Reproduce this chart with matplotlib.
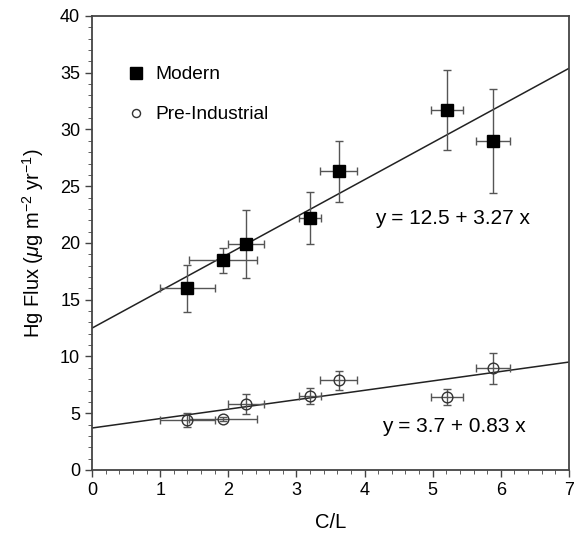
import numpy as np
import matplotlib.pyplot as plt
from matplotlib.lines import Line2D
from matplotlib.ticker import MultipleLocator

plt.rcParams['font.family'] = ['Liberation Sans', 'DejaVu Sans']
plt.rcParams['mathtext.fontset'] = 'custom'
plt.rcParams['mathtext.rm'] = 'Liberation Sans'
plt.rcParams['mathtext.it'] = 'Liberation Sans:italic'

# C/L values and their errors (shared by both series)
cl = [1.40, 1.92, 2.26, 3.20, 3.62, 5.21, 5.89]
cl_err = [0.40, 0.50, 0.26, 0.16, 0.27, 0.24, 0.25]

# Modern Hg flux
modern = [16.0, 18.5, 19.9, 22.2, 26.3, 31.7, 29.0]
modern_err = [2.1, 1.1, 3.0, 2.3, 2.7, 3.5, 4.6]

# Pre-industrial Hg flux
pre = [4.4, 4.5, 5.8, 6.55, 7.9, 6.4, 8.95]
pre_err = [0.6, 0.2, 0.9, 0.7, 0.85, 0.7, 1.4]

# fitted lines
fit_modern = (12.5, 3.27)
fit_pre = (3.7, 0.83)

fig = plt.figure(figsize=(5.79, 5.33), dpi=100)
ax = fig.add_axes([0.1589, 0.1182, 0.8238, 0.8518])

xs = np.array([0, 7])
ax.plot(xs, fit_modern[0] + fit_modern[1]*xs, color='#222222', lw=1.1, zorder=2)
ax.plot(xs, fit_pre[0] + fit_pre[1]*xs, color='#222222', lw=1.1, zorder=2)

ax.errorbar(cl, modern, xerr=cl_err, yerr=modern_err, fmt='none',
            ecolor='#555555', elinewidth=1, capsize=3.2, capthick=1, zorder=3)
ax.errorbar(cl, pre, xerr=cl_err, yerr=pre_err, fmt='none',
            ecolor='#555555', elinewidth=1, capsize=3.2, capthick=1, zorder=3)
ax.plot(cl, modern, 's', color='black', ms=8, ls='none', zorder=4)
ax.plot(cl, pre, 'o', mfc='none', mec='#333333', mew=1, ms=7.7, ls='none', zorder=4)

# legend handles (smaller circle, as in the original)
h1 = Line2D([], [], marker='s', color='black', ms=8, ls='none')
h2 = Line2D([], [], marker='o', mfc='none', mec='#333333', mew=1, ms=5.8, ls='none')
ax.legend([h1, h2], ['Modern', 'Pre-Industrial'], loc='upper left',
          bbox_to_anchor=(0.072, 0.89), frameon=False, fontsize=13.8,
          labelspacing=1.18, handletextpad=0.5, handlelength=1.0,
          borderaxespad=0, borderpad=0)

ax.text(4.16, 22.2, 'y = 12.5 + 3.27 x', fontsize=15, va='center')
ax.text(4.26, 3.8, 'y = 3.7 + 0.83 x', fontsize=15, va='center')

ax.set_xlim(0, 7)
ax.set_ylim(0, 40)
ax.xaxis.set_major_locator(MultipleLocator(1))
ax.xaxis.set_minor_locator(MultipleLocator(0.2))
ax.yaxis.set_major_locator(MultipleLocator(5))
ax.yaxis.set_minor_locator(MultipleLocator(1))
ax.tick_params(which='both', direction='out', color='#444444', labelsize=13)
ax.tick_params(which='major', length=5, width=1)
ax.tick_params(which='minor', length=3, width=0.6)
for s in ax.spines.values():
    s.set_color('#444444')
    s.set_linewidth(1.3)

ax.set_xlabel('C/L', fontsize=14.5, labelpad=10)
ax.set_ylabel(r'Hg Flux ($\mu$g m$^{-2}$ yr$^{-1}$)', fontsize=14.5, labelpad=10)

fig.savefig('out.png', dpi=100)
